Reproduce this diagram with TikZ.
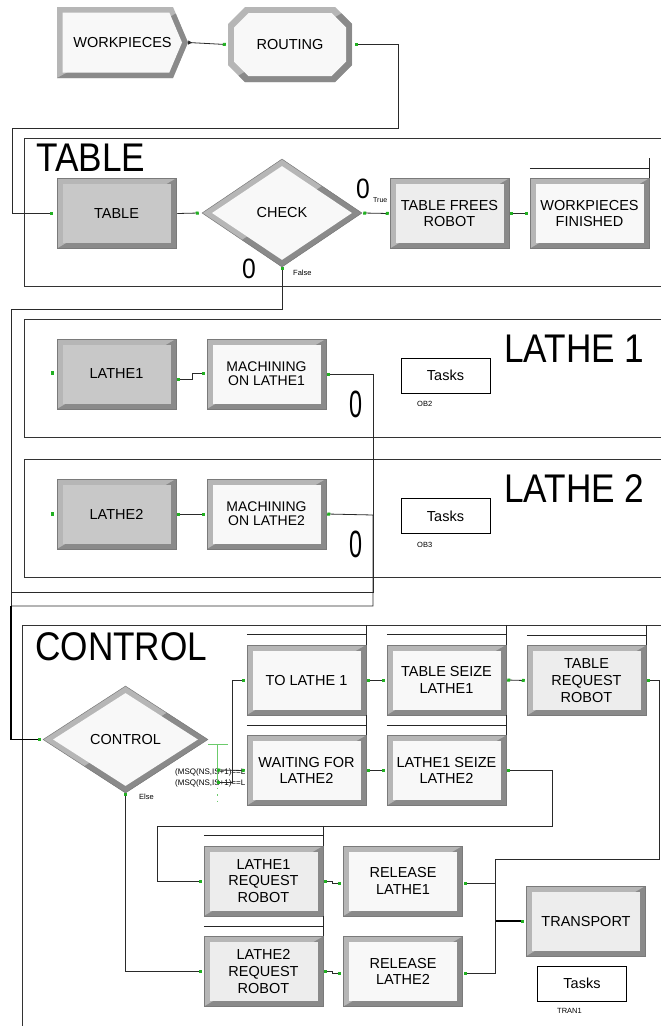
\documentclass[tikz,border=0pt]{standalone}
\usepackage{fontspec}
\setmainfont{Liberation Sans}
\newfontfamily\titlefont[FakeStretch=0.88]{Liberation Sans}
\usetikzlibrary{shapes.geometric,arrows.meta}
\definecolor{bevlight}{HTML}{B6B6B6}
\definecolor{bevdark}{HTML}{8A8A8A}
\definecolor{bevedge}{HTML}{7A7A7A}
\definecolor{facegray}{HTML}{C8C8C8}
\definecolor{facelight}{HTML}{EDEDED}
\definecolor{facewhite}{HTML}{F8F8F8}
\definecolor{dotgreen}{HTML}{22B022}
\definecolor{condgreen}{HTML}{6CCB6C}
\definecolor{linegray}{HTML}{2A2A2A}
\newcommand{\modfont}{\fontsize{14.5}{16.7}\selectfont}
\newcommand{\gdot}[1]{\fill[dotgreen] #1 +(-1.6,-1.6) rectangle +(1.6,1.6);}

\tikzset{
  gsq/.tip={Square[length=3pt,width=3pt,color=dotgreen]},
  bevel/.style={path picture={
    \path (path picture bounding box.north west) coordinate (bnw)
          (path picture bounding box.south east) coordinate (bse);
    \fill[bevlight] (bnw) rectangle (bse);
    \fill[bevdark] (bse -| bnw) -- (bse) -- (bnw -| bse) -- cycle;
    \fill[#1] ([shift={(5.5,5.5)}]bnw) rectangle ([shift={(-5.5,-5.5)}]bse);
  }},
  mod/.style={rectangle, inner sep=0pt, minimum width=119pt, minimum height=70pt,
    align=center, font=\modfont, draw=bevedge, line width=0.5pt, bevel=#1},
  dmod/.style={diamond, inner sep=0pt, minimum width=160pt, minimum height=108pt,
    font=\modfont, draw=bevedge, line width=0.5pt, path picture={
    \fill[bevlight] (path picture bounding box.south west) rectangle (path picture bounding box.north east);
    \fill[bevdark] (path picture bounding box.south west) -- (path picture bounding box.south east)
      -- (path picture bounding box.north east) -- cycle;
    \fill[facewhite] ([xshift=10pt]path picture bounding box.west) -- ([yshift=-7pt]path picture bounding box.north)
      -- ([xshift=-10pt]path picture bounding box.east) -- ([yshift=7pt]path picture bounding box.south) -- cycle;
  }},
  createmod/.style={rectangle, inner sep=0pt, minimum width=131pt, minimum height=71pt,
    font=\modfont, fill=white, path picture={
    \path (path picture bounding box.north west) coordinate (bnw)
          (path picture bounding box.south east) coordinate (bse)
          (path picture bounding box.east) coordinate (bea);
    \path (bnw -| bse) coordinate (bne) (bse -| bnw) coordinate (bsw);
    \fill[bevlight] (bnw) -- ([shift={(-15,0)}]bne) -- (bea) -- ([shift={(-15,0)}]bse) -- (bsw) -- cycle;
    \begin{scope}
      \clip (bsw) -- (bse) -- (bne) -- cycle;
      \fill[bevdark] (bnw) -- ([shift={(-15,0)}]bne) -- (bea) -- ([shift={(-15,0)}]bse) -- (bsw) -- cycle;
    \end{scope}
    \fill[facewhite] ([shift={(5.5,5.5)}]bnw) -- ([shift={(-18.7,5.5)}]bne) -- ([shift={(-6,0)}]bea)
      -- ([shift={(-18.7,-5.5)}]bse) -- ([shift={(5.5,-5.5)}]bsw) -- cycle;
  }},
  routemod/.style={rectangle, inner sep=0pt, minimum width=124pt, minimum height=75pt,
    font=\modfont, fill=white, path picture={
    \path (path picture bounding box.north west) coordinate (bnw)
          (path picture bounding box.south east) coordinate (bse);
    \path (bnw -| bse) coordinate (bne) (bse -| bnw) coordinate (bsw);
    \fill[bevlight] ([shift={(17,0)}]bnw) -- ([shift={(-17,0)}]bne) -- ([shift={(0,17)}]bne) -- ([shift={(0,-17)}]bse)
      -- ([shift={(-17,0)}]bse) -- ([shift={(17,0)}]bsw) -- ([shift={(0,-17)}]bsw) -- ([shift={(0,17)}]bnw) -- cycle;
    \begin{scope}
      \clip (bsw) -- (bse) -- (bne) -- cycle;
      \fill[bevdark] ([shift={(17,0)}]bnw) -- ([shift={(-17,0)}]bne) -- ([shift={(0,17)}]bne) -- ([shift={(0,-17)}]bse)
        -- ([shift={(-17,0)}]bse) -- ([shift={(17,0)}]bsw) -- ([shift={(0,-17)}]bsw) -- ([shift={(0,17)}]bnw) -- cycle;
    \end{scope}
    \fill[facewhite] ([shift={(20.5,6)}]bnw) -- ([shift={(-20.5,6)}]bne) -- ([shift={(-6,20.5)}]bne) -- ([shift={(-6,-20.5)}]bse)
      -- ([shift={(-20.5,-6)}]bse) -- ([shift={(20.5,-6)}]bsw) -- ([shift={(6,-20.5)}]bsw) -- ([shift={(6,20.5)}]bnw) -- cycle;
  }},
  taskbox/.style={rectangle, draw=black, line width=0.8pt, fill=white, inner sep=0pt,
    minimum width=89pt, minimum height=35pt, font=\modfont},
  region/.style={draw=black!80, line width=0.8pt},
  conn/.style={draw=linegray, line width=0.8pt},
  bus/.style={draw=black, line width=1.8pt},
  qline/.style={draw=black!85, line width=0.8pt},
  cond/.style={draw=condgreen, line width=0.8pt},
  regiontitle/.style={font={\titlefont\fontsize{40}{40}\selectfont}, inner sep=0pt, anchor=base west},
  bigzero/.style={font={\titlefont\fontsize{28}{28}\selectfont}, inner sep=0pt, anchor=base west},
  smalllabel/.style={font=\fontsize{7.5}{8}\selectfont, inner sep=0pt, anchor=base west},
}

\begin{document}
\begin{tikzpicture}[x=1pt, y=-1pt]
  \useasboundingbox (0,0) rectangle (661,1026);
  \clip (0,0) rectangle (661,1026);

  % submodel frames
  \draw[region] (24,138) rectangle (690,286);
  \draw[region] (24,319) rectangle (690,437);
  \draw[region] (24,459) rectangle (690,577);
  \draw[region] (22,625) rectangle (690,1060);
  \node[regiontitle] (ttable) at (36,171) {TABLE};
  \node[regiontitle] (tlathe1) at (504,362) {LATHE 1};
  \node[regiontitle] (tlathe2) at (504,502) {LATHE 2};
  \node[regiontitle] (tcontrol) at (35,660) {CONTROL};

  % arrivals
  \node[createmod] (wp) at (122.5,42.5) {WORKPIECES};
  \node[routemod] (rout) at (290,44.5) {ROUTING};

  % table
  \node[mod=facegray] (table) at (116.5,213.5) {TABLE};
  \node[dmod] (check) at (282,213) {CHECK};
  \node[mod=facelight] (tfr) at (449.5,213.5) {TABLE FREES\\ROBOT};
  \node[mod=facewhite] (wf) at (589.5,213.5) {WORKPIECES\\FINISHED};
  \node[bigzero] (ztrue) at (356,198) {0};
  \node[bigzero] (zfalse) at (242,278) {0};
  \node[smalllabel, font=\fontsize{7}{7}\selectfont] (ltrue) at (373,202) {True};
  \node[smalllabel] (lfalse) at (293,275) {False};

  % lathes
  \node[mod=facegray] (lathe1) at (116.5,374) {LATHE1};
  \node[mod=facewhite, font=\fontsize{14}{14}\selectfont] (mach1) at (266.5,374) {MACHINING\\ON LATHE1};
  \node[taskbox] (tasks1) at (445.5,375.5) {Tasks};
  \node[smalllabel] (ob2) at (417,406) {OB2};
  \node[bigzero, font={\titlefont\fontsize{38}{38}\selectfont}] (zmach1) at (349,417) {\scalebox{0.7}[1]{0}};
  \node[mod=facegray] (lathe2) at (116.5,514) {LATHE2};
  \node[mod=facewhite, font=\fontsize{14}{14}\selectfont] (mach2) at (266.5,514) {MACHINING\\ON LATHE2};
  \node[taskbox] (tasks2) at (445.5,516) {Tasks};
  \node[smalllabel] (ob3) at (417,547) {OB3};
  \node[bigzero, font={\titlefont\fontsize{38}{38}\selectfont}] (zmach2) at (349,557) {\scalebox{0.7}[1]{0}};

  % control
  \node[dmod, minimum width=165pt, minimum height=107pt] (control) at (125.5,739.5) {CONTROL};
  \node[smalllabel] (lelse) at (139,799) {Else};
  \node[smalllabel, font=\fontsize{8}{8}\selectfont] (msq1) at (175,774) {(MSQ(NS,IS+1)==L};
  \node[smalllabel, font=\fontsize{8}{8}\selectfont] (msq2) at (175,785) {(MSQ(NS,IS+1)==L};
  \node[mod=facewhite] (tol1) at (306.5,680) {TO LATHE 1};
  \node[mod=facewhite] (tsl1) at (446.5,680) {TABLE SEIZE\\LATHE1};
  \node[mod=facelight] (trr) at (586.5,680.5) {TABLE\\REQUEST\\ROBOT};
  \node[mod=facewhite] (wfl2) at (306.5,770.5) {WAITING FOR\\LATHE2};
  \node[mod=facewhite] (l1sl2) at (446.5,770.5) {LATHE1 SEIZE\\LATHE2};
  \node[mod=facelight] (l1rr) at (263.5,881) {LATHE1\\REQUEST\\ROBOT};
  \node[mod=facewhite] (rl1) at (403,881) {RELEASE\\LATHE1};
  \node[mod=facelight] (l2rr) at (263.5,971.5) {LATHE2\\REQUEST\\ROBOT};
  \node[mod=facewhite] (rl2) at (403,971.5) {RELEASE\\LATHE2};
  \node[mod=facelight] (transport) at (586,921) {TRANSPORT};
  \node[taskbox] (tasks3) at (582,983.5) {Tasks};
  \node[smalllabel] (tran1) at (557,1013) {TRAN1};

  % queues
  \foreach \q in {wf,tol1,tsl1,trr,wfl2,l1sl2,l1rr,l2rr}
    \draw[qline] ([shift={(0,-10)}]\q.north west) -- ([shift={(0,-10)}]\q.north east)
                 ([shift={(0,-20)}]\q.north east) -- (\q.north east);

  % connectors
  \draw[conn, {Triangle[reversed,length=4pt,width=4pt]}-gsq] (wp.east) -- ([xshift=-2pt]rout.west);
  \draw[conn, gsq-gsq] ([xshift=3pt]rout.east) -| (398,128) -| (12,213.5) -- ([xshift=-4pt]table.west);
  \draw[conn, -gsq] ([xshift=1pt]table.east) -- ([xshift=-3pt]check.west);
  \draw[conn, gsq-gsq] ([xshift=1pt]check.east) -- ([xshift=-1pt]tfr.west);
  \draw[conn, gsq-gsq] ([xshift=1pt]tfr.east) -- ([xshift=-2pt]wf.west);
  \draw[conn, gsq-] (check.south) |- (11,309) -- (11,606);
  \gdot{([shift={(-4,-1)}]lathe1.west)}
  \gdot{([xshift=-4pt]lathe2.west)}
  \draw[conn, gsq-gsq] ([shift={(1,5)}]lathe1.east) -| (192,373) -- ([shift={(-2,-1)}]mach1.west);
  \draw[conn, gsq-] ([xshift=1pt]mach1.east) -| (373,592) -- (11,592);
  \draw[conn, gsq-gsq] ([xshift=1pt]lathe2.east) -- ([xshift=-2pt]mach2.west);
  \draw[conn, gsq-] ([xshift=1pt]mach2.east) -- (373,515) |- (11,606);
  \draw[bus, -gsq] (11,606) |- ([xshift=-2pt]control.west);

  \draw[cond] ([shift={(0,4.5)}]control.east) -- ++(20,0);
  \draw[cond] ([shift={(9,4.5)}]control.east) -- ++(0,38);
  \draw[cond, dash pattern=on 1.5pt off 5pt] ([shift={(9,48)}]control.east) -- ++(0,18);
  \coordinate (cond1) at ([shift={(9,30.5)}]control.east);
  \coordinate (cond2) at ([shift={(9,42.5)}]control.east);
  \draw[conn, gsq-gsq] (cond1) -- ([xshift=-2pt]wfl2.west);
  \draw[conn, gsq-gsq] (cond2) -| (232,680) -- ([xshift=-2pt]tol1.west);
  \draw[conn, gsq-gsq] ([xshift=1pt]tol1.east) -- ([xshift=-2pt]tsl1.west);
  \draw[conn, gsq-gsq] ([xshift=1pt]tsl1.east) -- ([xshift=-2pt]trr.west);
  \draw[conn, gsq-] ([xshift=1pt]trr.east) -| (659,859) -| (495,921);
  \draw[bus, -gsq] (495,921) -- ([xshift=-2pt]transport.west);
  \draw[conn, gsq-gsq] ([xshift=1pt]wfl2.east) -- ([xshift=-2pt]l1sl2.west);
  \draw[conn, gsq-gsq] ([xshift=1pt]l1sl2.east) -| (552,826) -| (157,881) -- ([xshift=-2pt]l1rr.west);
  \draw[conn, gsq-gsq] (control.south) |- ([xshift=-2pt]l2rr.west);
  \draw[conn, gsq-gsq] ([xshift=1pt]l1rr.east) -- ++(8,0) -- ++(0,2) -- ([shift={(-2,2)}]rl1.west);
  \draw[conn, gsq-gsq] ([xshift=1pt]l2rr.east) -- ++(8,0) -- ++(0,2) -- ([shift={(-2,2)}]rl2.west);
  \draw[conn, gsq-] ([shift={(1,2)}]rl1.east) -| (495,921);
  \draw[conn, gsq-] ([shift={(1,2)}]rl2.east) -| (495,921);
\end{tikzpicture}
\end{document}
